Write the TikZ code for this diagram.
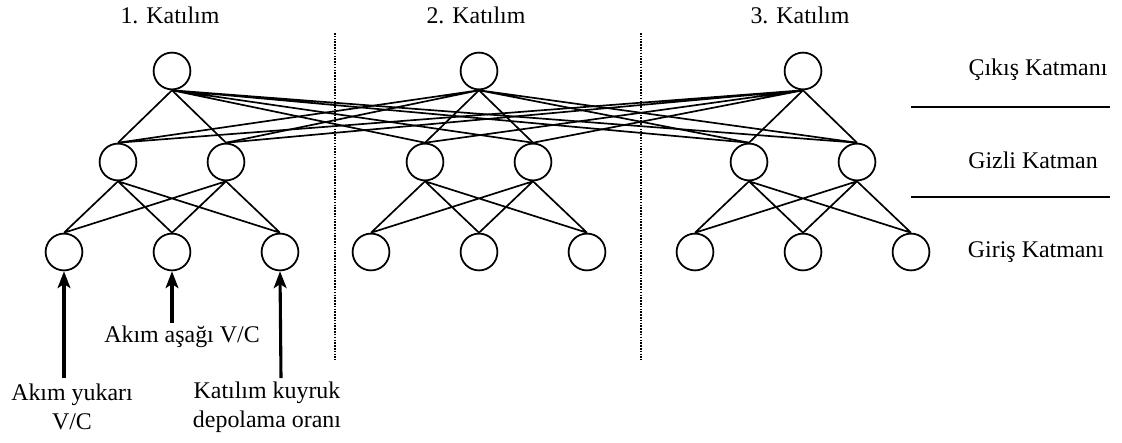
\documentclass[tikz,border=0pt]{standalone}
\usepackage{fontspec}
\setmainfont{Liberation Serif}
\usetikzlibrary{arrows.meta}

\begin{document}
\begin{tikzpicture}[x=0.025cm,y=-0.025cm,
    neuron/.style={circle,draw,line width=1.25pt,minimum size=0.92cm,inner sep=0pt},
    link/.style={line width=1.2pt},
    sep/.style={line width=1.5pt,dash pattern=on 1.1pt off 0.9pt},
    feed/.style={line width=2.2pt,-{Stealth[length=0.42cm,width=0.32cm,inset=0.1cm]}},
    lbl/.style={font=\fontsize{17}{20.6}\selectfont,align=center,inner sep=0pt}]
    \useasboundingbox (0,0) rectangle (1122,442);

    % group centres and layer heights
    \newcommand{\GA}{172}
    \newcommand{\GB}{479}
    \newcommand{\GC}{803}
    \newcommand{\OUTY}{71}
    \newcommand{\HIDY}{162}
    \newcommand{\INY}{252}

    \node[lbl] (t1) at (170,15) {1. Katılım};
    \node[lbl] (t2) at (476,15) {2. Katılım};
    \node[lbl] (t3) at (800,15) {3. Katılım};

    \draw[sep] (335,33) -- (335,360);
    \draw[sep] (641,33) -- (641,360);

    % 1. Katilim
    \node[neuron] (o1) at (\GA,\OUTY) {};
    \node[neuron] (h1a) at (\GA-54,\HIDY) {};
    \node[neuron] (h1b) at (\GA+54,\HIDY) {};
    \node[neuron] (i1a) at (\GA-108,\INY) {};
    \node[neuron] (i1b) at (\GA,\INY) {};
    \node[neuron] (i1c) at (\GA+108,\INY) {};

    % 2. Katilim
    \node[neuron] (o2) at (\GB,\OUTY) {};
    \node[neuron] (h2a) at (\GB-54,\HIDY) {};
    \node[neuron] (h2b) at (\GB+54,\HIDY) {};
    \node[neuron] (i2a) at (\GB-108,\INY) {};
    \node[neuron] (i2b) at (\GB,\INY) {};
    \node[neuron] (i2c) at (\GB+108,\INY) {};

    % 3. Katilim
    \node[neuron] (o3) at (\GC,\OUTY) {};
    \node[neuron] (h3a) at (\GC-54,\HIDY) {};
    \node[neuron] (h3b) at (\GC+54,\HIDY) {};
    \node[neuron] (i3a) at (\GC-108,\INY) {};
    \node[neuron] (i3b) at (\GC,\INY) {};
    \node[neuron] (i3c) at (\GC+108,\INY) {};

    % input -> hidden
    \draw[link] (h1a.south) -- (i1a.north) (h1a.south) -- (i1b.north) (h1a.south) -- (i1c.north)
    (h1b.south) -- (i1a.north) (h1b.south) -- (i1b.north) (h1b.south) -- (i1c.north);
    \draw[link] (h2a.south) -- (i2a.north) (h2a.south) -- (i2b.north) (h2a.south) -- (i2c.north)
    (h2b.south) -- (i2a.north) (h2b.south) -- (i2b.north) (h2b.south) -- (i2c.north);
    \draw[link] (h3a.south) -- (i3a.north) (h3a.south) -- (i3b.north) (h3a.south) -- (i3c.north)
    (h3b.south) -- (i3a.north) (h3b.south) -- (i3b.north) (h3b.south) -- (i3c.north);

    % hidden -> output, every output sees all hidden nodes
    \draw[link] (o1.south) -- (h1a.north) (o1.south) -- (h1b.north) (o1.south) -- (h2a.north)
    (o1.south) -- (h2b.north) (o1.south) -- (h3a.north) (o1.south) -- (h3b.north);
    \draw[link] (o2.south) -- (h1a.north) (o2.south) -- (h1b.north) (o2.south) -- (h2a.north)
    (o2.south) -- (h2b.north) (o2.south) -- (h3a.north) (o2.south) -- (h3b.north);
    \draw[link] (o3.south) -- (h1a.north) (o3.south) -- (h1b.north) (o3.south) -- (h2a.north)
    (o3.south) -- (h2b.north) (o3.south) -- (h3a.north) (o3.south) -- (h3b.north);

    % layer names
    \node[lbl] (cikis) at (1038,70) {Çıkış Katmanı};
    \node[lbl] (gizli) at (1033,160) {Gizli Katman};
    \node[lbl] (giris) at (1036,252) {Giriş Katmanı};
    \draw[line width=1.2pt] (911,107) -- (1110,107);
    \draw[line width=1.2pt] (911,197) -- (1110,197);

    % inputs of the first group
    \node[lbl] (v1) at (72,407) {Akım yukarı\\V/C};
    \node[lbl] (v2) at (182,337) {Akım aşağı V/C};
    \node[lbl] (v3) at (267,407) {Katılım kuyruk\\depolama oranı};
    \coordinate (s1) at (64,378);
    \coordinate (s2) at (172,323);
    \coordinate (s3) at (281,378);
    \draw[feed] (s1) -- (i1a.south);
    \draw[feed] (s2) -- (i1b.south);
    \draw[feed] (s3) -- (i1c.south);
  \end{tikzpicture}
\end{document}
